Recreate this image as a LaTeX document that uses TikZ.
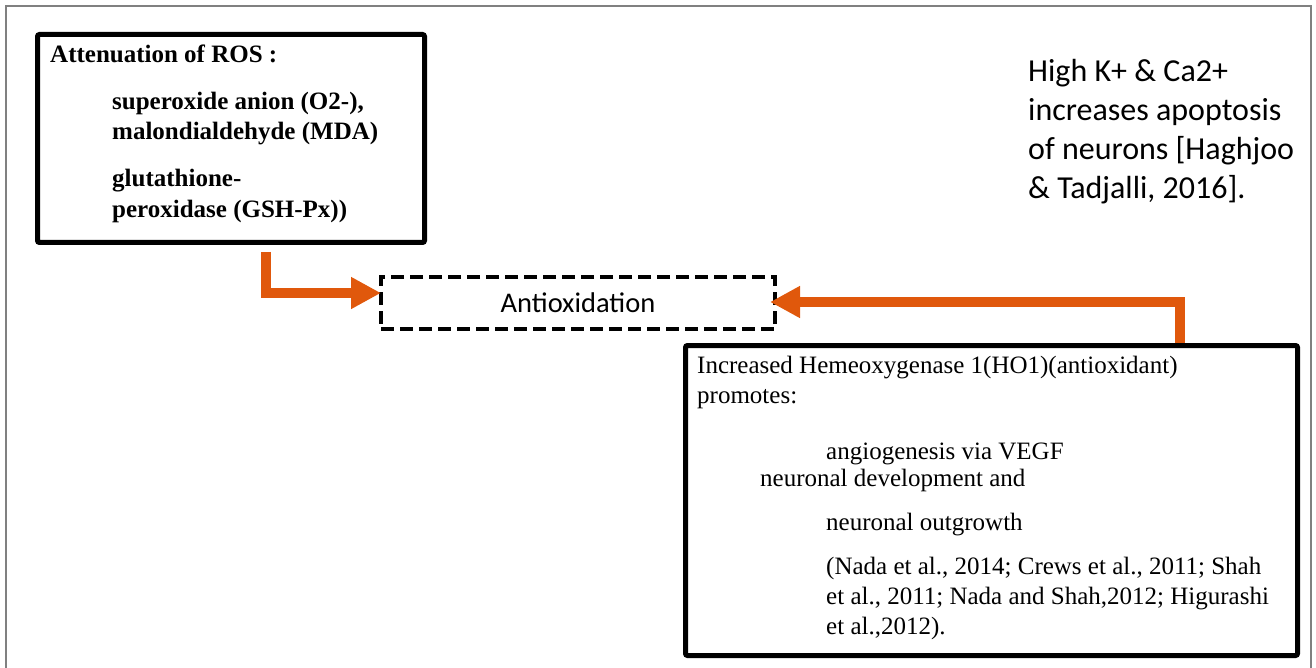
\documentclass[tikz,border=0pt]{standalone}
\usepackage{fontspec}
\setmainfont{Liberation Serif}
\newfontfamily\calib{Carlito}
\usetikzlibrary{arrows.meta}
\definecolor{flowor}{RGB}{224,88,12}
\definecolor{framegray}{RGB}{128,128,128}

\begin{document}
\begin{tikzpicture}[x=1pt,y=-1pt,
  solidbox/.style={draw=black, line width=5pt, rounded corners=2pt, inner sep=0pt, anchor=north west},
  dashbox/.style={draw=black, line width=4pt, dash pattern=on 13pt off 6pt, inner sep=0pt},
  serifline/.style={anchor=base west, inner sep=0pt, font=\fontsize{25}{29}\selectfont},
  boldline/.style={anchor=base west, inner sep=0pt, font=\fontsize{25}{29}\selectfont\bfseries},
  sansline/.style={anchor=base west, inner sep=0pt, font=\calib\fontsize{32}{39}\selectfont},
  flow/.style={draw=flowor, line width=10pt, line join=miter, -{Triangle[length=30pt,width=30pt]}}
]
\useasboundingbox (0,0) rectangle (1316,668);

% outer frame
\draw[framegray, line width=1.5pt] (6,670) -- (6,6) -- (1311,6) -- (1311,670);

% ROS box
\node[solidbox, minimum width=387pt, minimum height=208pt] (ros) at (35,32) {};
\node[boldline] (ros1) at (50,63)  {Attenuation of ROS :};
\node[boldline] (ros2) at (112,110) {superoxide anion (O2-),};
\node[boldline] (ros3) at (112,140) {malondialdehyde (MDA)};
\node[boldline] (ros4) at (112,187) {glutathione-};
\node[boldline] (ros5) at (112,218) {peroxidase (GSH-Px))};

% antioxidation box
\node[dashbox, minimum width=394pt, minimum height=52pt, font=\calib\fontsize{28.5}{32}\selectfont] (antiox) at (578,303) {Antioxidation};

% HO1 box
\node[solidbox, minimum width=612pt, minimum height=310pt] (ho1) at (683,343) {};
\node[serifline] (h1) at (697,373) {Increased Hemeoxygenase 1(HO1)(antioxidant)};
\node[serifline] (h2) at (697,403) {promotes:};
\node[serifline] (h3) at (826,459) {angiogenesis via VEGF};
\node[serifline] (h4) at (760,486) {neuronal development and};
\node[serifline] (h5) at (826,530) {neuronal outgrowth};
\node[serifline] (h6) at (826,574) {(Nada et al., 2014; Crews et al., 2011; Shah};
\node[serifline] (h7) at (826,604) {et al., 2011; Nada and Shah,2012; Higurashi};
\node[serifline] (h8) at (826,634) {et al.,2012).};

% note on potassium and calcium
\node[sansline] (k1) at (1028,82)  {High K+ \& Ca2+};
\node[sansline] (k2) at (1028,121) {increases apoptosis};
\node[sansline] (k3) at (1028,160) {of neurons [Haghjoo};
\node[sansline] (k4) at (1028,199) {\& Tadjalli, 2016].};

% connectors
\coordinate (rosout) at (266,252);
\coordinate (hoout) at (1180,343);
\draw[flow] (rosout) |- ([xshift=2pt,yshift=10pt]antiox.west);
\draw[flow] (hoout) |- ([xshift=-7pt,yshift=1pt]antiox.east);
\end{tikzpicture}
\end{document}
